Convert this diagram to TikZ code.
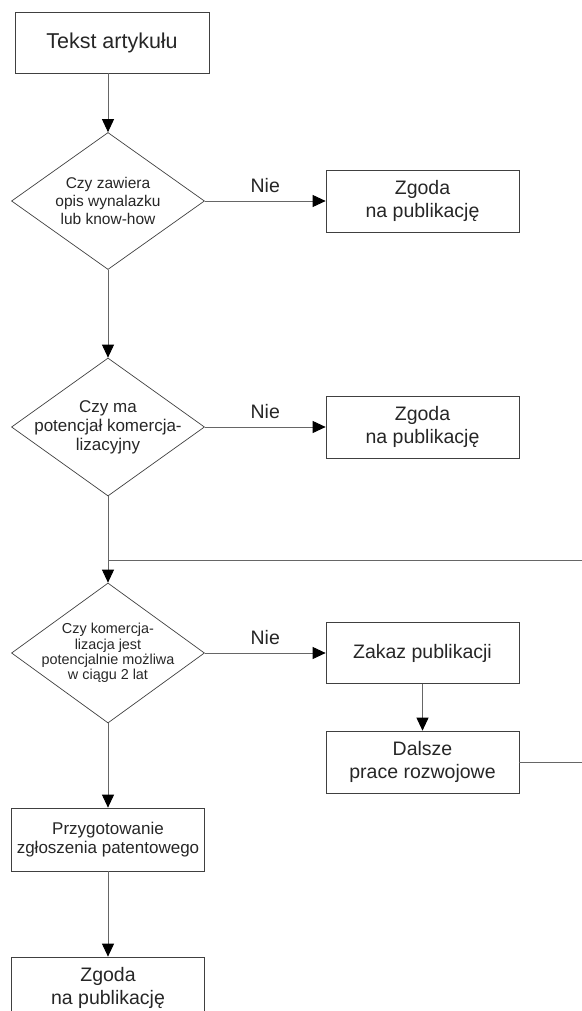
\documentclass[tikz,border=0pt]{standalone}
\usepackage{fontspec}
\setmainfont{Liberation Sans}
\usetikzlibrary{shapes.geometric,arrows.meta}

\begin{document}
\begin{tikzpicture}[x=1pt, y=-1pt,
    box/.style={draw=black!75, line width=0.7pt, minimum width=193pt, minimum height=62pt,
      inner sep=0pt, align=center, text=black!85, font=\fontsize{19.5}{23}\selectfont},
    decision/.style={diamond, draw=black!75, line width=0.7pt, minimum width=193pt,
      minimum height=138pt, inner sep=-20pt, align=center, text=black!85},
    flow/.style={draw=black!60, line width=0.9pt, -{Triangle[length=13pt, width=12pt, color=black]}},
    link/.style={draw=black!60, line width=0.9pt},
    answer/.style={above=8pt, inner sep=0pt, text=black!85, font=\fontsize{19.5}{23}\selectfont}]
    \useasboundingbox (0,0) rectangle (581,1011);

    \node[box, minimum width=194pt, minimum height=61pt, font=\fontsize{21.5}{25}\selectfont]
      (tekst) at (112, 42.5) {Tekst artykułu};

    \node[decision, minimum height=137pt, font=\fontsize{15.5}{18}\selectfont]
      (d1) at (108, 201) {
      Czy zawiera \\
      opis wynalazku \\
      lub know-how
    };
    \node[box] (z1) at (422.5, 201) {
      Zgoda \\
      na publikację
    };

    \node[decision, font=\fontsize{17}{19}\selectfont]
      (d2) at (108, 427) {
      Czy ma \\
      potencjał komercja- \\
      lizacyjny
    };
    \node[box] (z2) at (422.5, 427) {
      Zgoda \\
      na publikację
    };

    \coordinate (join) at (108, 560);

    \node[decision, minimum height=140pt, font=\fontsize{14.4}{15.2}\selectfont]
      (d3) at (108, 653) {
      Czy komercja- \\
      lizacja jest \\
      potencjalnie możliwa \\
      w ciągu 2 lat
    };
    \node[box, minimum height=61pt] (zakaz) at (422.5, 653) {Zakaz publikacji};
    \node[box] (dalsze) at (422.5, 762) {
      Dalsze \\
      prace rozwojowe
    };

    \node[box, minimum height=63pt, font=\fontsize{17}{18.5}\selectfont]
      (przyg) at (108, 839.5) {
      Przygotowanie \\
      zgłoszenia patentowego
    };
    \node[box] (z3) at (108, 988) {
      Zgoda \\
      na publikację
    };

    \draw[flow] (tekst.south -| d1.north) -- (d1.north);
    \draw[flow] (d1.east) -- node[answer] (nie1) {Nie} (z1.west);
    \draw[flow] (d1.south) -- (d2.north);
    \draw[flow] (d2.east) -- node[answer] (nie2) {Nie} (z2.west);
    \draw[flow] (d2.south) -- (d3.north);
    \draw[flow] (d3.east) -- node[answer] (nie3) {Nie} (zakaz.west);
    \draw[flow] (zakaz.south) -- (dalsze.north);
    \draw[link] (dalsze.east) -- ++(90, 0) |- (join);
    \draw[flow] (d3.south) -- (przyg.north);
    \draw[flow] (przyg.south) -- (z3.north);
\end{tikzpicture}
\end{document}
